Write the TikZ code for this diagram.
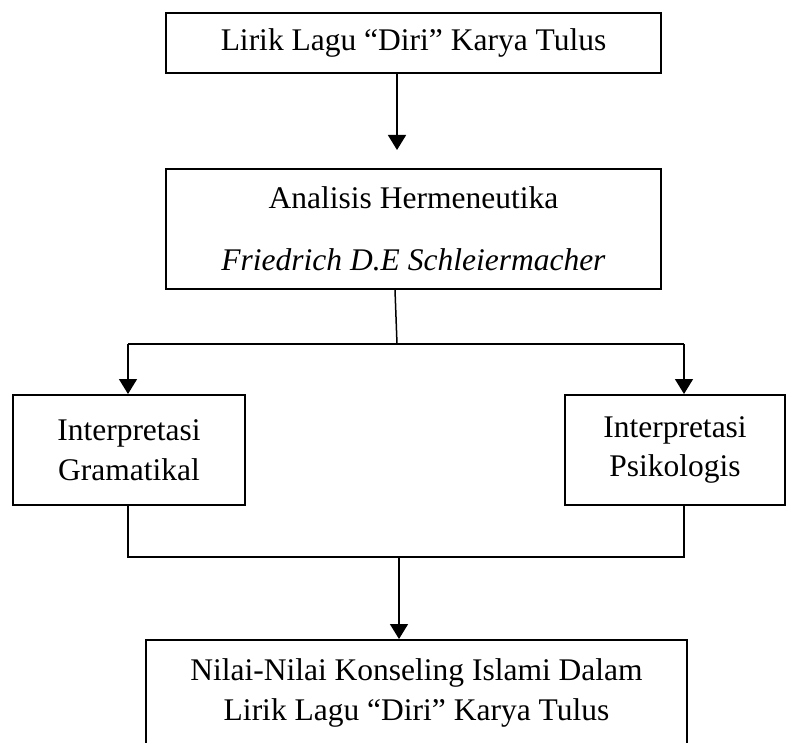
\documentclass[tikz,border=0pt]{standalone}
\usepackage{fontspec}
\setmainfont{Liberation Serif}
\usetikzlibrary{arrows.meta}
\begin{document}
\begin{tikzpicture}[x=1pt,y=-1pt,
  box/.style={draw, line width=2pt, inner sep=0pt, align=center,
    font=\fontsize{31.5}{39.5}\selectfont},
  conn/.style={line width=1.5pt},
  arr/.style={conn,-{Triangle[width=18pt,length=15pt]}}]
\useasboundingbox (0,0) rectangle (786,743);
\clip (0,0) rectangle (786,743);

\node[box, minimum width=495pt, minimum height=60pt] (b1) at (413.5,43) {Lirik Lagu “Diri” Karya Tulus};
\node[box, minimum width=495pt, minimum height=120pt] (b2) at (413.5,229) {Analisis Hermeneutika\\[23pt]\textit{Friedrich D.E Schleiermacher}};
\node[box, minimum width=232pt, minimum height=110pt] (gl) at (129,450) {Interpretasi\\Gramatikal};
\node[box, minimum width=220pt, minimum height=110pt] (ps) at (675,450) {Interpretasi\\Psikologis};
\node[box, anchor=north, minimum width=541pt, minimum height=106pt] (b3) at (416.5,639) {Nilai-Nilai Konseling Islami Dalam\\Lirik Lagu “Diri” Karya Tulus};

\coordinate (t1) at (397,150);
\coordinate (s1) at (395,0);
\coordinate (j1) at (397,344);
\coordinate (cl) at (128,344);
\coordinate (cr) at (684,344);
\coordinate (dl) at (128,557);
\coordinate (dr) at (684,557);
\coordinate (j2) at (399,557);

\draw[arr] (b1.south -| t1) -- (t1);
\draw[conn] (b2.south -| s1) -- (j1);
\draw[conn] (cl) -- (cr);
\draw[arr] (cl) -- (gl.north -| cl);
\draw[arr] (cr) -- (ps.north -| cr);
\draw[conn] (gl.south -| dl) -- (dl) -- (dr) -- (ps.south -| dr);
\draw[arr] (j2) -- (b3.north -| j2);
\end{tikzpicture}
\end{document}
